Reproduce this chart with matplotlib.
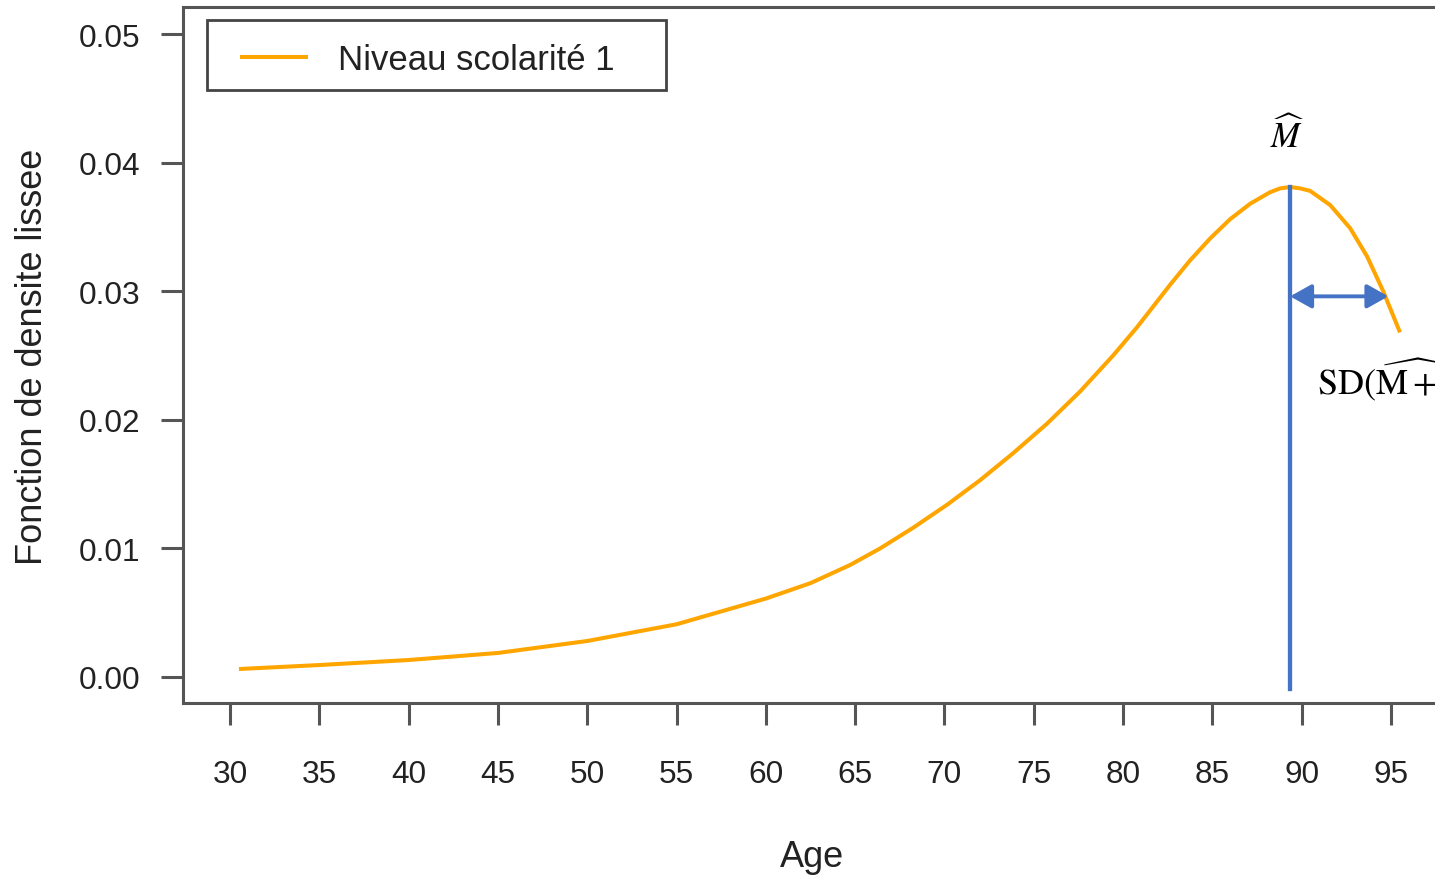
import matplotlib
matplotlib.use("Agg")
import matplotlib.pyplot as plt
from matplotlib.patches import Rectangle

# ---- data ----
age = [30.5, 35, 40, 45, 50, 55, 60, 62.5, 64.7, 66.4, 68.24, 70.15, 71.99,
       73.84, 75.74, 77.59, 79.44, 80.78, 81.51, 82.63, 83.75, 84.87, 85.99,
       87.11, 88.23, 88.8, 89.35, 89.9, 90.47, 91.59, 92.71, 93.66, 94.56, 95.5]
density = [0.00062, 0.00093, 0.00132, 0.00187, 0.0028, 0.0041, 0.0061,
           0.0073, 0.0087, 0.0100, 0.0116, 0.0134, 0.0153, 0.0174,
           0.0197, 0.0222, 0.0250, 0.0272, 0.0285, 0.0305, 0.0324,
           0.0341, 0.0356, 0.0368, 0.0377, 0.0380, 0.0381, 0.0380, 0.0378,
           0.0367, 0.0349, 0.0327, 0.0300, 0.0268]
mode_age = 89.35
mode_line_bottom = -0.0009
mode_density = 0.0381
arrow_y = 0.0296
arrow_end = 94.85
xticks = [30, 35, 40, 45, 50, 55, 60, 65, 70, 75, 80, 85, 90, 95]
yticks = [0.00, 0.01, 0.02, 0.03, 0.04, 0.05]
ytick_labels = ["0.00", "0.01", "0.02", "0.03", "0.04", "0.05"]
legend_label = "Niveau scolarité 1"
xlabel = "Age"
ylabel = "Fonction de densite lissee"

plt.rcParams["font.family"] = ["Liberation Sans", "DejaVu Sans"]
plt.rcParams["mathtext.fontset"] = "stix"

W, H = 1435, 879
fig = plt.figure(figsize=(W / 100, H / 100), dpi=100)
ax = fig.add_axes([183 / W, 1 - 704 / H, 1 - 183 / W, (704 - 8) / H])

orange = "#FFA500"
blue = "#4472C4"
spine_c = "#555555"
text_c = "#222222"

line, = ax.plot(age, density, color=orange, lw=2.9, solid_capstyle="butt",
                solid_joinstyle="round")
ax.plot([mode_age, mode_age], [mode_line_bottom, mode_density], color=blue, lw=3.1)
ax.annotate("", xy=(arrow_end, arrow_y), xytext=(mode_age, arrow_y),
            arrowprops=dict(arrowstyle="<|-|>,head_length=0.5,head_width=0.28",
                            mutation_scale=26, color=blue, lw=2.8,
                            shrinkA=0, shrinkB=0))

ax.text(89.18, 0.0422, r"$\widehat{M}$", fontsize=25, ha="center", va="center",
        color="black")
ax.text(90.86, 0.0232, r"$\mathrm{SD(}\widehat{\mathrm{M}+}$", fontsize=26,
        ha="left", va="center", color="black", clip_on=False)

ax.set_xlim(27.369, 97.46)
ax.set_ylim(-0.002022, 0.0521)
ax.set_xticks(xticks)
ax.set_yticks(yticks)
ax.set_yticklabels(ytick_labels)

for s in ["left", "bottom", "top"]:
    ax.spines[s].set_color(spine_c)
    ax.spines[s].set_linewidth(2.2)
ax.spines["right"].set_visible(False)

ax.tick_params(axis="both", direction="out", length=16, width=2.2,
               color=spine_c, labelsize=22.7, labelcolor=text_c)
ax.tick_params(axis="x", pad=24)
ax.tick_params(axis="y", pad=15)

ax.set_xlabel(xlabel, fontsize=26, color=text_c)
ax.xaxis.label.set_va("center")
ax.xaxis.set_label_coords((812 - 183) / 1252, (704 - 858) / 696)

ax.set_ylabel(ylabel, fontsize=26, color=text_c)
ax.yaxis.label.set_va("center")
ax.yaxis.set_label_coords((33 - 183) / 1252, (704 - 356.5) / 696)

# legend (frame drawn separately to match the wider padding)
leg = ax.legend([line], [legend_label], loc="center left",
                bbox_to_anchor=(240 / W, 1 - 61 / H), bbox_transform=fig.transFigure,
                frameon=False, borderpad=0, borderaxespad=0,
                handlelength=1.96, handletextpad=0.86, fontsize=25)
for t in leg.get_texts():
    t.set_color(text_c)
fig.patches.append(Rectangle((207 / W, 1 - 91 / H), (666 - 207) / W, (91 - 21) / H,
                             transform=fig.transFigure, fill=False,
                             edgecolor="#444444", lw=2.0, zorder=5))

fig.savefig("out.png", dpi=100)
